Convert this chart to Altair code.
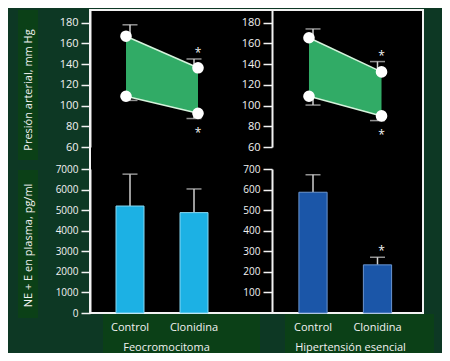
import altair as alt
import pandas as pd

# ---------------- data ----------------
conditions = ["Control", "Clonidina"]
groups = ["Feocromocitoma", "Hipertensión esencial"]

# Presión arterial (mm Hg)
sys_feo = [167, 136.5]
sys_feo_err = [11, 8.5]
dia_feo = [109, 92.5]
dia_feo_err = [4, 5]

sys_hta = [165.5, 132.5]
sys_hta_err = [8.5, 10]
dia_hta = [109, 90]
dia_hta_err = [8.5, 4.5]

bp_significant = [False, True]

# NE + E en plasma (pg/ml)
ne_feo = [5200, 4880]
ne_feo_err = [1550, 1150]
ne_feo_significant = [False, False]

ne_hta = [587, 234]
ne_hta_err = [85, 37]
ne_hta_significant = [False, True]

bp_ticks = [60, 80, 100, 120, 140, 160, 180]
ne_feo_ticks = [0, 1000, 2000, 3000, 4000, 5000, 6000, 7000]
ne_hta_ticks = [100, 200, 300, 400, 500, 600, 700]

# ---------------- styles / layout ----------------
BG = "#0d3824"
BOX = "#0b4017"
FONT = "Open Sans"
WHITE = "#f2f2f2"
ERR = "#cfcfcf"
GREEN = "#31ab66"
EDGE = "#d5f3dc"
BAR_COLORS = ["#1cb1e4", "#1b56a8"]
BAR_EDGES = ["#86d8f3", "#6a95d0"]

W, H = 333, 303
BP_DOMAIN = [60, 192.3]
BP_RANGE = [137, 0]
NE_RANGE = [303, 159]
X_RANGES = [[0, 144], [182.7, 327.8]]
AXIS_OFFSET = [0, -182]
XTITLE_X = [76, 260]


def xenc(g, with_axis=False):
    scale = alt.Scale(domain=conditions, range=X_RANGES[g],
                      paddingInner=0.5625, paddingOuter=0.40625)
    if with_axis:
        axis = alt.Axis(orient="bottom", domain=False, ticks=False, tickSize=0,
                        labelPadding=8, labelAngle=0, labelColor=WHITE,
                        labelFont=FONT, labelFontSize=11, labelBaseline="top",
                        titleColor=WHITE, titleFont=FONT, titleFontSize=11,
                        titleFontWeight="normal", titleX=XTITLE_X[g], titleY=34,
                        titleBaseline="middle", titleAlign="center", grid=False,
                        zindex=1)
        return alt.X("cond:N", scale=scale, axis=axis, title=groups[g])
    return alt.X("cond:N", scale=scale, axis=None)


def yaxis(g, values, size, title=None, title_y=0):
    kw = dict(orient="left", offset=AXIS_OFFSET[g], values=values, grid=False,
              domainColor=WHITE, domainWidth=2, tickColor=WHITE, tickWidth=1.5,
              tickSize=9, labelPadding=3, labelColor=WHITE, labelFont=FONT,
              labelFontSize=size, format="d", zindex=1)
    if title:
        kw.update(titleColor=WHITE, titleFont=FONT, titleFontSize=11,
                  titleFontWeight="normal", titleX=-62, titleY=title_y,
                  titleAngle=270, titleBaseline="middle", titleAlign="center")
    return alt.Axis(**kw)


def ybp(field, axis=None, title=None):
    sc = alt.Scale(domain=BP_DOMAIN, range=BP_RANGE, nice=False, zero=False)
    if axis is None:
        return alt.Y(f"{field}:Q", scale=sc, axis=None)
    return alt.Y(f"{field}:Q", scale=sc, axis=axis, title=title)


def yne(field, dom, axis=None, title=None):
    sc = alt.Scale(domain=dom, range=NE_RANGE, nice=False, zero=True)
    if axis is None:
        return alt.Y(f"{field}:Q", scale=sc, axis=None)
    return alt.Y(f"{field}:Q", scale=sc, axis=axis, title=title)


def bp_layers(g, sys, sys_err, dia, dia_err):
    df = pd.DataFrame({
        "cond": conditions,
        "sys": sys,
        "dia": dia,
        "sys_top": [s + e for s, e in zip(sys, sys_err)],
        "dia_bot": [d - e for d, e in zip(dia, dia_err)],
        "sig": bp_significant,
    })
    base = alt.Chart(df)
    title = "Presión arterial, mm Hg" if g == 0 else None
    ax = yaxis(g, bp_ticks, 11, title=title, title_y=79.5)
    out = [
        base.mark_area(color=GREEN, opacity=1).encode(
            x=xenc(g), y=ybp("sys", ax, title), y2="dia"),
        base.mark_line(color=EDGE, strokeWidth=1.5).encode(x=xenc(g), y=ybp("sys")),
        base.mark_line(color=EDGE, strokeWidth=1.5).encode(x=xenc(g), y=ybp("dia")),
        base.mark_rule(color=ERR, strokeWidth=1.5).encode(
            x=xenc(g), y=ybp("sys"), y2="sys_top"),
        base.mark_tick(color=ERR, thickness=1.5, size=15).encode(
            x=xenc(g), y=ybp("sys_top")),
        base.mark_rule(color=ERR, strokeWidth=1.5).encode(
            x=xenc(g), y=ybp("dia_bot"), y2="dia"),
        base.mark_tick(color=ERR, thickness=1.5, size=15).encode(
            x=xenc(g), y=ybp("dia_bot")),
        base.mark_circle(color="white", opacity=1, size=135).encode(
            x=xenc(g), y=ybp("sys")),
        base.mark_circle(color="white", opacity=1, size=135).encode(
            x=xenc(g), y=ybp("dia")),
        base.transform_filter("datum.sig").mark_text(
            text="*", color=WHITE, font=FONT, fontSize=12, dy=-6,
            baseline="middle").encode(x=xenc(g), y=ybp("sys_top")),
        base.transform_filter("datum.sig").mark_text(
            text="*", color=WHITE, font=FONT, fontSize=12, dy=14,
            baseline="middle").encode(x=xenc(g), y=ybp("dia_bot")),
    ]
    return out


def ne_layers(g, vals, errs, sig, ticks, dom, label_size):
    df = pd.DataFrame({
        "cond": conditions,
        "val": vals,
        "top": [v + e for v, e in zip(vals, errs)],
        "sig": sig,
    })
    base = alt.Chart(df)
    title = "NE + E en plasma, pg/ml" if g == 0 else None
    ax = yaxis(g, ticks, label_size, title=title, title_y=235)
    out = [
        base.mark_rule(color=ERR, strokeWidth=1.5).encode(
            x=xenc(g), y=yne("val", dom), y2="top"),
        base.mark_tick(color=ERR, thickness=1.5, size=15).encode(
            x=xenc(g), y=yne("top", dom)),
        base.mark_bar(color=BAR_COLORS[g], stroke=BAR_EDGES[g], strokeWidth=1).encode(
            x=xenc(g, with_axis=True), y=yne("val", dom, ax, title)),
        base.transform_filter("datum.sig").mark_text(
            text="*", color=WHITE, font=FONT, fontSize=12, dy=-6,
            baseline="middle").encode(x=xenc(g), y=yne("top", dom)),
    ]
    return out


def box(x0, x1, y0, y1, color=BOX, **kw):
    return alt.Chart(pd.DataFrame({"k": [0]})).mark_rect(color=color, **kw).encode(
        x=alt.value(x0), x2=alt.value(x1), y=alt.value(y0), y2=alt.value(y1))


layers = [
    box(13, 170, 304, 345),
    box(195, 344, 304, 345),
    box(-72, -52, 0, 150),
    box(-72, -52, 160, 308),
    box(0, W, 0, H, color="black", stroke=WHITE, strokeWidth=2),
]
layers += bp_layers(0, sys_feo, sys_feo_err, dia_feo, dia_feo_err)
layers += bp_layers(1, sys_hta, sys_hta_err, dia_hta, dia_hta_err)
layers += ne_layers(0, ne_feo, ne_feo_err, ne_feo_significant, ne_feo_ticks, [0, 7000], 10)
layers += ne_layers(1, ne_hta, ne_hta_err, ne_hta_significant, ne_hta_ticks, [0, 700], 10)
# background-coloured strip between the title strips and the left axis
layers += [box(-52, -1, -2, H + 1, color=BG)]

chart = alt.layer(*layers).resolve_scale(
    x="independent", y="independent"
).properties(
    width=W, height=H,
    padding={"left": 82, "top": 2, "right": 19, "bottom": 40},
    autosize=alt.AutoSizeParams(type="none"),
    background=BG,
).configure_view(fill=BG, strokeWidth=0)

chart.save("out.html", embed_options={"renderer": "svg", "actions": False})
